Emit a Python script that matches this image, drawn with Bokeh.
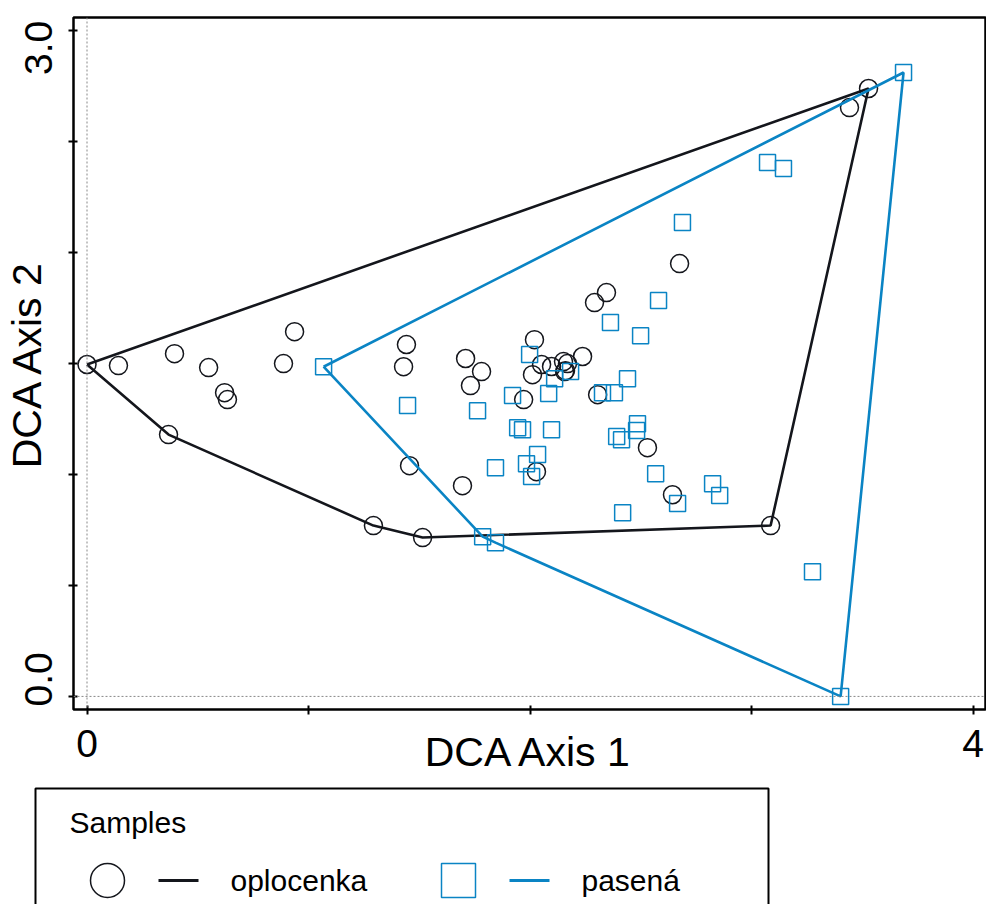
from bokeh.plotting import figure
from bokeh.layouts import column
from bokeh.models import Range1d, FixedTicker, Span
from bokeh.core.properties import value
from bokeh.embed import file_html
from bokeh.resources import INLINE

# DCA sample scores, fenced plots (oplocenka)
oplocenka_x = [0.00, 0.142, 0.395, 0.549, 0.621, 0.634, 0.368, 0.887, 0.937, 1.442,
               1.429, 1.293, 1.515, 1.456, 1.695, 1.709, 1.731, 1.781, 1.971, 2.020,
               2.011, 2.052, 2.097, 2.151, 2.169, 2.156, 2.160, 2.237, 2.305, 2.029,
               2.291, 2.345, 2.675, 2.530, 2.643, 3.086, 3.528, 3.442]
oplocenka_y = [1.496, 1.491, 1.545, 1.482, 1.369, 1.338, 1.180, 1.500, 1.644, 1.586,
               1.486, 0.770, 0.716, 1.040, 0.950, 1.523, 1.401, 1.464, 1.338, 1.608,
               1.450, 1.496, 1.487, 1.509, 1.500, 1.464, 1.468, 1.532, 1.360, 1.013,
               1.775, 1.820, 1.951, 1.121, 0.909, 0.770, 2.740, 2.654]

# DCA sample scores, grazed plots (pasená)
pasena_x = [1.068, 3.686, 3.402, 1.786, 1.844, 3.275, 3.072, 3.144, 2.688, 2.580,
            2.363, 2.499, 1.998, 2.183, 2.111, 1.921, 2.084, 2.440, 2.327, 2.381,
            1.447, 1.763, 1.944, 1.966, 2.097, 2.485, 2.481, 2.391, 2.413, 2.034,
            1.984, 2.007, 1.844, 2.567, 2.824, 2.856, 2.666, 2.418]
pasena_y = [1.486, 2.812, 0.000, 0.720, 0.693, 0.562, 2.406, 2.379, 2.136, 1.784,
            1.685, 1.626, 1.541, 1.464, 1.432, 1.356, 1.365, 1.432, 1.369, 1.369,
            1.311, 1.288, 1.211, 1.202, 1.202, 1.229, 1.198, 1.171, 1.157, 1.090,
            1.049, 0.991, 1.031, 1.004, 0.959, 0.905, 0.869, 0.828]

groups = ["oplocenka", "pasená"]
group_colors = ["#14161c", "#0a84c4"]
group_markers = ["circle", "square"]

x_labeled_ticks = [0, 4]
x_ticks = [0, 1, 2, 3, 4]
y_labeled_ticks = [0.0, 3.0]
y_ticks = [0.0, 0.5, 1.0, 1.5, 2.0, 2.5, 3.0]

FONT = "Liberation Sans"
Y_MIN, Y_MAX = -0.059, 3.06
FRAME_H = 692  # px
LABEL_INSET = 17  # px, y tick labels are nudged inward from the frame ends


def convex_hull(xs, ys):
    pts = sorted(set(zip(xs, ys)))

    def cross(o, a, b):
        return (a[0] - o[0]) * (b[1] - o[1]) - (a[1] - o[1]) * (b[0] - o[0])

    lower, upper = [], []
    for p in pts:
        while len(lower) >= 2 and cross(lower[-2], lower[-1], p) <= 0:
            lower.pop()
        lower.append(p)
    for p in reversed(pts):
        while len(upper) >= 2 and cross(upper[-2], upper[-1], p) <= 0:
            upper.pop()
        upper.append(p)
    hull = lower[:-1] + upper[:-1]
    hull.append(hull[0])
    return [h[0] for h in hull], [h[1] for h in hull]


p = figure(width=986, height=780, output_backend="svg", toolbar_location=None,
           x_range=Range1d(-0.061, 4.056), y_range=Range1d(Y_MIN, Y_MAX),
           min_border_left=73, min_border_right=1, min_border_top=17,
           min_border_bottom=71)
p.frame_align = False
p.grid.visible = False
p.outline_line_color = "black"
p.outline_line_width = 2.5
p.background_fill_color = "white"
p.border_fill_color = "white"

# zero reference lines
for dim, loc in (("height", 0), ("width", 0)):
    p.add_layout(Span(location=loc, dimension=dim, line_color="#888888",
                      line_width=1, line_dash="2 2"))

series = [(oplocenka_x, oplocenka_y), (pasena_x, pasena_y)]
for (xs, ys), color, marker in zip(series, group_colors, group_markers):
    hx, hy = convex_hull(xs, ys)
    p.line(hx, hy, line_color=color, line_width=2.6)
    p.scatter(xs, ys, marker=marker, size=18 if marker == "circle" else 16,
              fill_color=None, line_color=color, line_width=1.5)

# x axis: tick marks at every integer, labels only at the ends
p.xaxis.ticker = FixedTicker(ticks=x_labeled_ticks,
                             minor_ticks=[t for t in x_ticks if t not in x_labeled_ticks])

# y axis: tick marks every 0.5; end labels sit slightly inside the range
units_per_px = (Y_MAX - Y_MIN) / FRAME_H
y_label_pos = []
y_overrides = {}
for t in y_labeled_ticks:
    shift = LABEL_INSET * units_per_px * (1 if t < 1.5 else -1)
    pos = round(t + shift, 4)
    y_label_pos.append(pos)
    y_overrides[pos] = f"{t:.1f}"
p.yaxis.ticker = FixedTicker(ticks=y_label_pos, minor_ticks=y_ticks)
p.yaxis.major_label_overrides = y_overrides

p.xaxis.axis_label = "DCA Axis 1"
p.yaxis.axis_label = "DCA Axis 2"

for ax in (p.xaxis[0], p.yaxis[0]):
    ax.axis_line_color = None
    ax.major_tick_line_color = "black"
    ax.minor_tick_line_color = "black"
    ax.major_tick_line_width = 2
    ax.minor_tick_line_width = 2
    ax.major_tick_in = 4
    ax.major_tick_out = 5
    ax.minor_tick_in = 4
    ax.minor_tick_out = 5
    ax.major_label_text_font = FONT
    ax.major_label_text_font_size = "39px"
    ax.major_label_text_color = "black"
    ax.axis_label_text_font = FONT
    ax.axis_label_text_font_size = "41px"
    ax.axis_label_text_font_style = "normal"
    ax.axis_label_text_color = "black"

p.yaxis.major_tick_line_color = None  # marks come from the minor ticks

p.xaxis.major_label_standoff = 15
p.xaxis.axis_label_standoff = -31
p.yaxis.major_label_orientation = "vertical"
p.yaxis.major_label_standoff = 16
p.yaxis.axis_label_standoff = -27

# legend panel below the plot
lg = figure(width=986, height=124, output_backend="svg", toolbar_location=None,
            x_range=Range1d(0, 986), y_range=Range1d(124, 0),
            min_border=0)
lg.frame_align = False
lg.axis.visible = False
lg.grid.visible = False
lg.outline_line_color = None
lg.quad(left=[35], right=[768], top=[8], bottom=[200], fill_color=None,
        line_color="black", line_width=2)
lg.text(x=[69], y=[42], text=["Samples"], text_font=value(FONT),
        text_font_size="30px", text_baseline="middle", text_color="black")

entry_x = [90, 441]
for gx, name, color, marker in zip(entry_x, groups, group_colors, group_markers):
    lg.scatter([gx + 17], [100], marker=marker, size=34, fill_color=None,
               line_color=color, line_width=1.5)
    lg.segment(x0=[gx + 68], y0=[100], x1=[gx + 108], y1=[100],
               line_color=color, line_width=3)
    lg.text(x=[gx + 140], y=[100], text=[name], text_font=value(FONT),
            text_font_size="30px", text_baseline="middle", text_color="black")

layout = column(p, lg, spacing=0)
open("out.html", "w").write(file_html(layout, INLINE))
